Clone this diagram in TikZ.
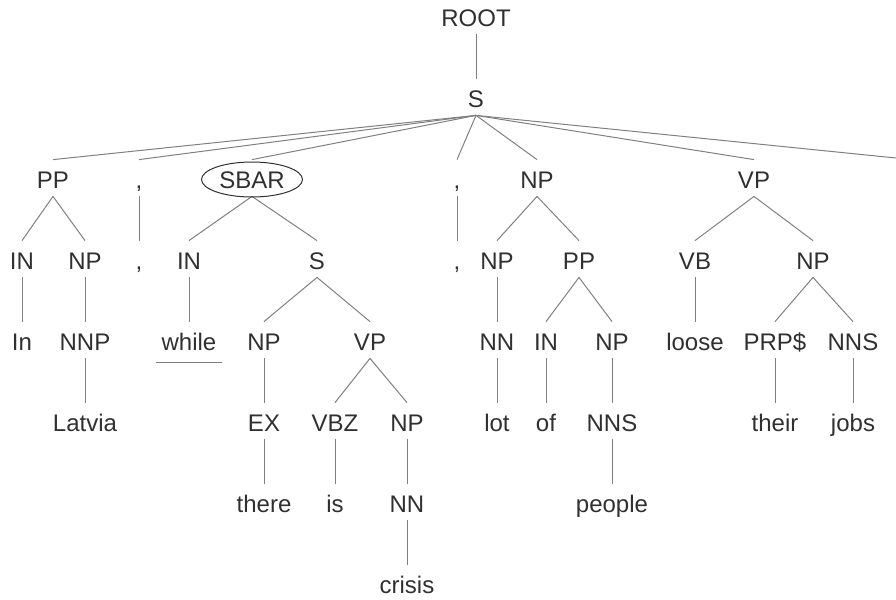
\documentclass[tikz,border=0pt]{standalone}
\usepackage{fontspec}
\setmainfont{Liberation Sans}
\usetikzlibrary{positioning}
\definecolor{tgray}{RGB}{48,48,48}
\definecolor{lgray}{RGB}{128,128,128}

\begin{document}
\begin{tikzpicture}[x=0.5pt,y=-0.5pt,
    lab/.style={anchor=base,inner sep=0pt,text height=8.5pt,text depth=0pt,
      text=tgray,font=\fontsize{12}{14}\selectfont},
    edge/.style={lgray,line width=0.5pt},
    oval/.style={tgray,line width=0.5pt}]
  \useasboundingbox (0,0) rectangle (896,600);
  % level by level, at the baselines
  \node[lab] (root) at (476,26) {ROOT};
  \node[lab] (s) at (476,107) {S};
  \node[lab] (pp) at (53,188) {PP};
  \node[lab] (cma) at (139,188) {,};
  \node[lab] (sbar) at (252,188) {SBAR};
  \node[lab] (cmb) at (457,188) {,};
  \node[lab] (np) at (537,188) {NP};
  \node[lab] (vp) at (754,188) {VP};
  \coordinate (rim) at (896,158);
  \node[lab] (ppin) at (22,269) {IN};
  \node[lab] (ppnp) at (85,269) {NP};
  \node[lab] (cmc) at (139,269) {,};
  \node[lab] (sbin) at (189,269) {IN};
  \node[lab] (sbs) at (317,269) {S};
  \node[lab] (cmd) at (457,269) {,};
  \node[lab] (npnp) at (497,269) {NP};
  \node[lab] (nppp) at (579,269) {PP};
  \node[lab] (vpvb) at (695,269) {VB};
  \node[lab] (vpnp) at (813,269) {NP};
  \node[lab] (in) at (22,350) {In};
  \node[lab] (nnp) at (85,350) {NNP};
  \node[lab] (while) at (189,350) {while};
  \node[lab] (ssnp) at (264,350) {NP};
  \node[lab] (ssvp) at (370,350) {VP};
  \node[lab] (npnn) at (497,350) {NN};
  \node[lab] (ofin) at (546,350) {IN};
  \node[lab] (ofnp) at (612,350) {NP};
  \node[lab] (loose) at (695,350) {loose};
  \node[lab] (prp) at (775,350) {PRP\$};
  \node[lab] (nns) at (853,350) {NNS};
  \node[lab] (latvia) at (85,431) {Latvia};
  \node[lab] (ex) at (264,431) {EX};
  \node[lab] (vbz) at (335,431) {VBZ};
  \node[lab] (crnp) at (407,431) {NP};
  \node[lab] (lot) at (497,431) {lot};
  \node[lab] (of) at (546,431) {of};
  \node[lab] (pnns) at (612,431) {NNS};
  \node[lab] (their) at (775,431) {their};
  \node[lab] (jobs) at (853,431) {jobs};
  \node[lab] (there) at (264,512) {there};
  \node[lab] (is) at (335,512) {is};
  \node[lab] (crnn) at (407,512) {NN};
  \node[lab] (people) at (612,512) {people};
  \node[lab] (crisis) at (407,593) {crisis};
  % branches
  \foreach \p/\c in {root/s,s/pp,s/cma,s/sbar,s/cmb,s/np,s/vp,
      pp/ppin,pp/ppnp,cma/cmc,sbar/sbin,sbar/sbs,cmb/cmd,np/npnp,np/nppp,
      vp/vpvb,vp/vpnp,ppin/in,ppnp/nnp,sbin/while,sbs/ssnp,sbs/ssvp,
      npnp/npnn,nppp/ofin,nppp/ofnp,vpvb/loose,vpnp/prp,vpnp/nns,
      nnp/latvia,ssnp/ex,ssvp/vbz,ssvp/crnp,npnn/lot,ofin/of,ofnp/pnns,
      prp/their,nns/jobs,ex/there,vbz/is,crnp/crnn,pnns/people,crnn/crisis}
    \draw[edge] ([yshift=-4pt]\p.south) -- ([yshift=5.5pt]\c.north);
  \draw[edge] ([yshift=-4pt]s.south) -- (rim);
  \draw[edge] ([xshift=-2.5pt,yshift=-6pt]while.south west)
    -- ([xshift=2.5pt,yshift=-6pt]while.south east);
  \draw[oval] (sbar.center) ellipse [x radius=25.25pt,y radius=8.75pt];
\end{tikzpicture}
\end{document}
